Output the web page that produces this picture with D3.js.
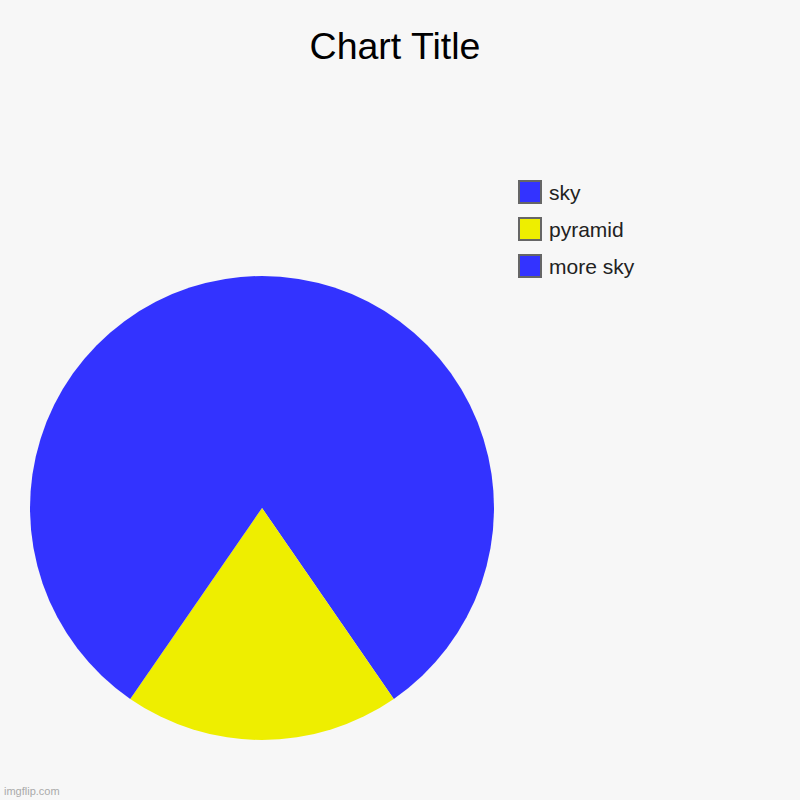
<!DOCTYPE html>
<html>
<head>
<meta charset="utf-8">
<script src="https://cdn.jsdelivr.net/npm/d3@7"></script>
<style>
  body { margin: 0; background: #f7f7f7; }
  svg { display: block; }
</style>
</head>
<body>
<div id="chart"></div>
<script>
var width = 800;
var height = 800;

// slices, clockwise from 12 o'clock
var labels = ["sky", "pyramid", "more sky"];
var values = [42, 20, 42];
var colors = ["#3333ff", "#eeee00", "#3333ff"];

var svg = d3.select("#chart")
    .append("svg")
    .attr("width", width)
    .attr("height", height)
    .style("font-family", "Arial, 'Liberation Sans', sans-serif");

svg.append("rect")
    .attr("width", width)
    .attr("height", height)
    .attr("fill", "#f7f7f7");

svg.append("text")
    .attr("x", 395)
    .attr("y", 59)
    .attr("text-anchor", "middle")
    .attr("font-size", 37.5)
    .attr("fill", "#000")
    .text("Chart Title");

var pie = d3.pie().sort(null).value(function(d) { return d; });
var arc = d3.arc().innerRadius(0).outerRadius(232);

var g = svg.append("g")
    .attr("transform", "translate(262,508)");

g.selectAll("path")
    .data(pie(values))
    .enter()
    .append("path")
    .attr("d", arc)
    .attr("fill", function(d, i) {
        return colors[i];
    });

var legend = svg.selectAll(".legend")
    .data(labels)
    .enter()
    .append("g")
    .attr("class", "legend")
    .attr("transform", function(d, i) {
        return "translate(519," + (181 + i * 37) + ")";
    });

legend.append("rect")
    .attr("width", 22)
    .attr("height", 22)
    .attr("fill", function(d, i) { return colors[i]; })
    .attr("stroke", "#666")
    .attr("stroke-width", 2);

legend.append("text")
    .attr("x", 30)
    .attr("y", 18.5)
    .attr("font-size", 21)
    .attr("fill", "#222")
    .text(function(d) { return d; });

svg.append("text")
    .attr("x", 4)
    .attr("y", 795)
    .attr("font-size", 11)
    .attr("fill", "#aaa")
    .text("imgflip.com");
</script>
</body>
</html>
